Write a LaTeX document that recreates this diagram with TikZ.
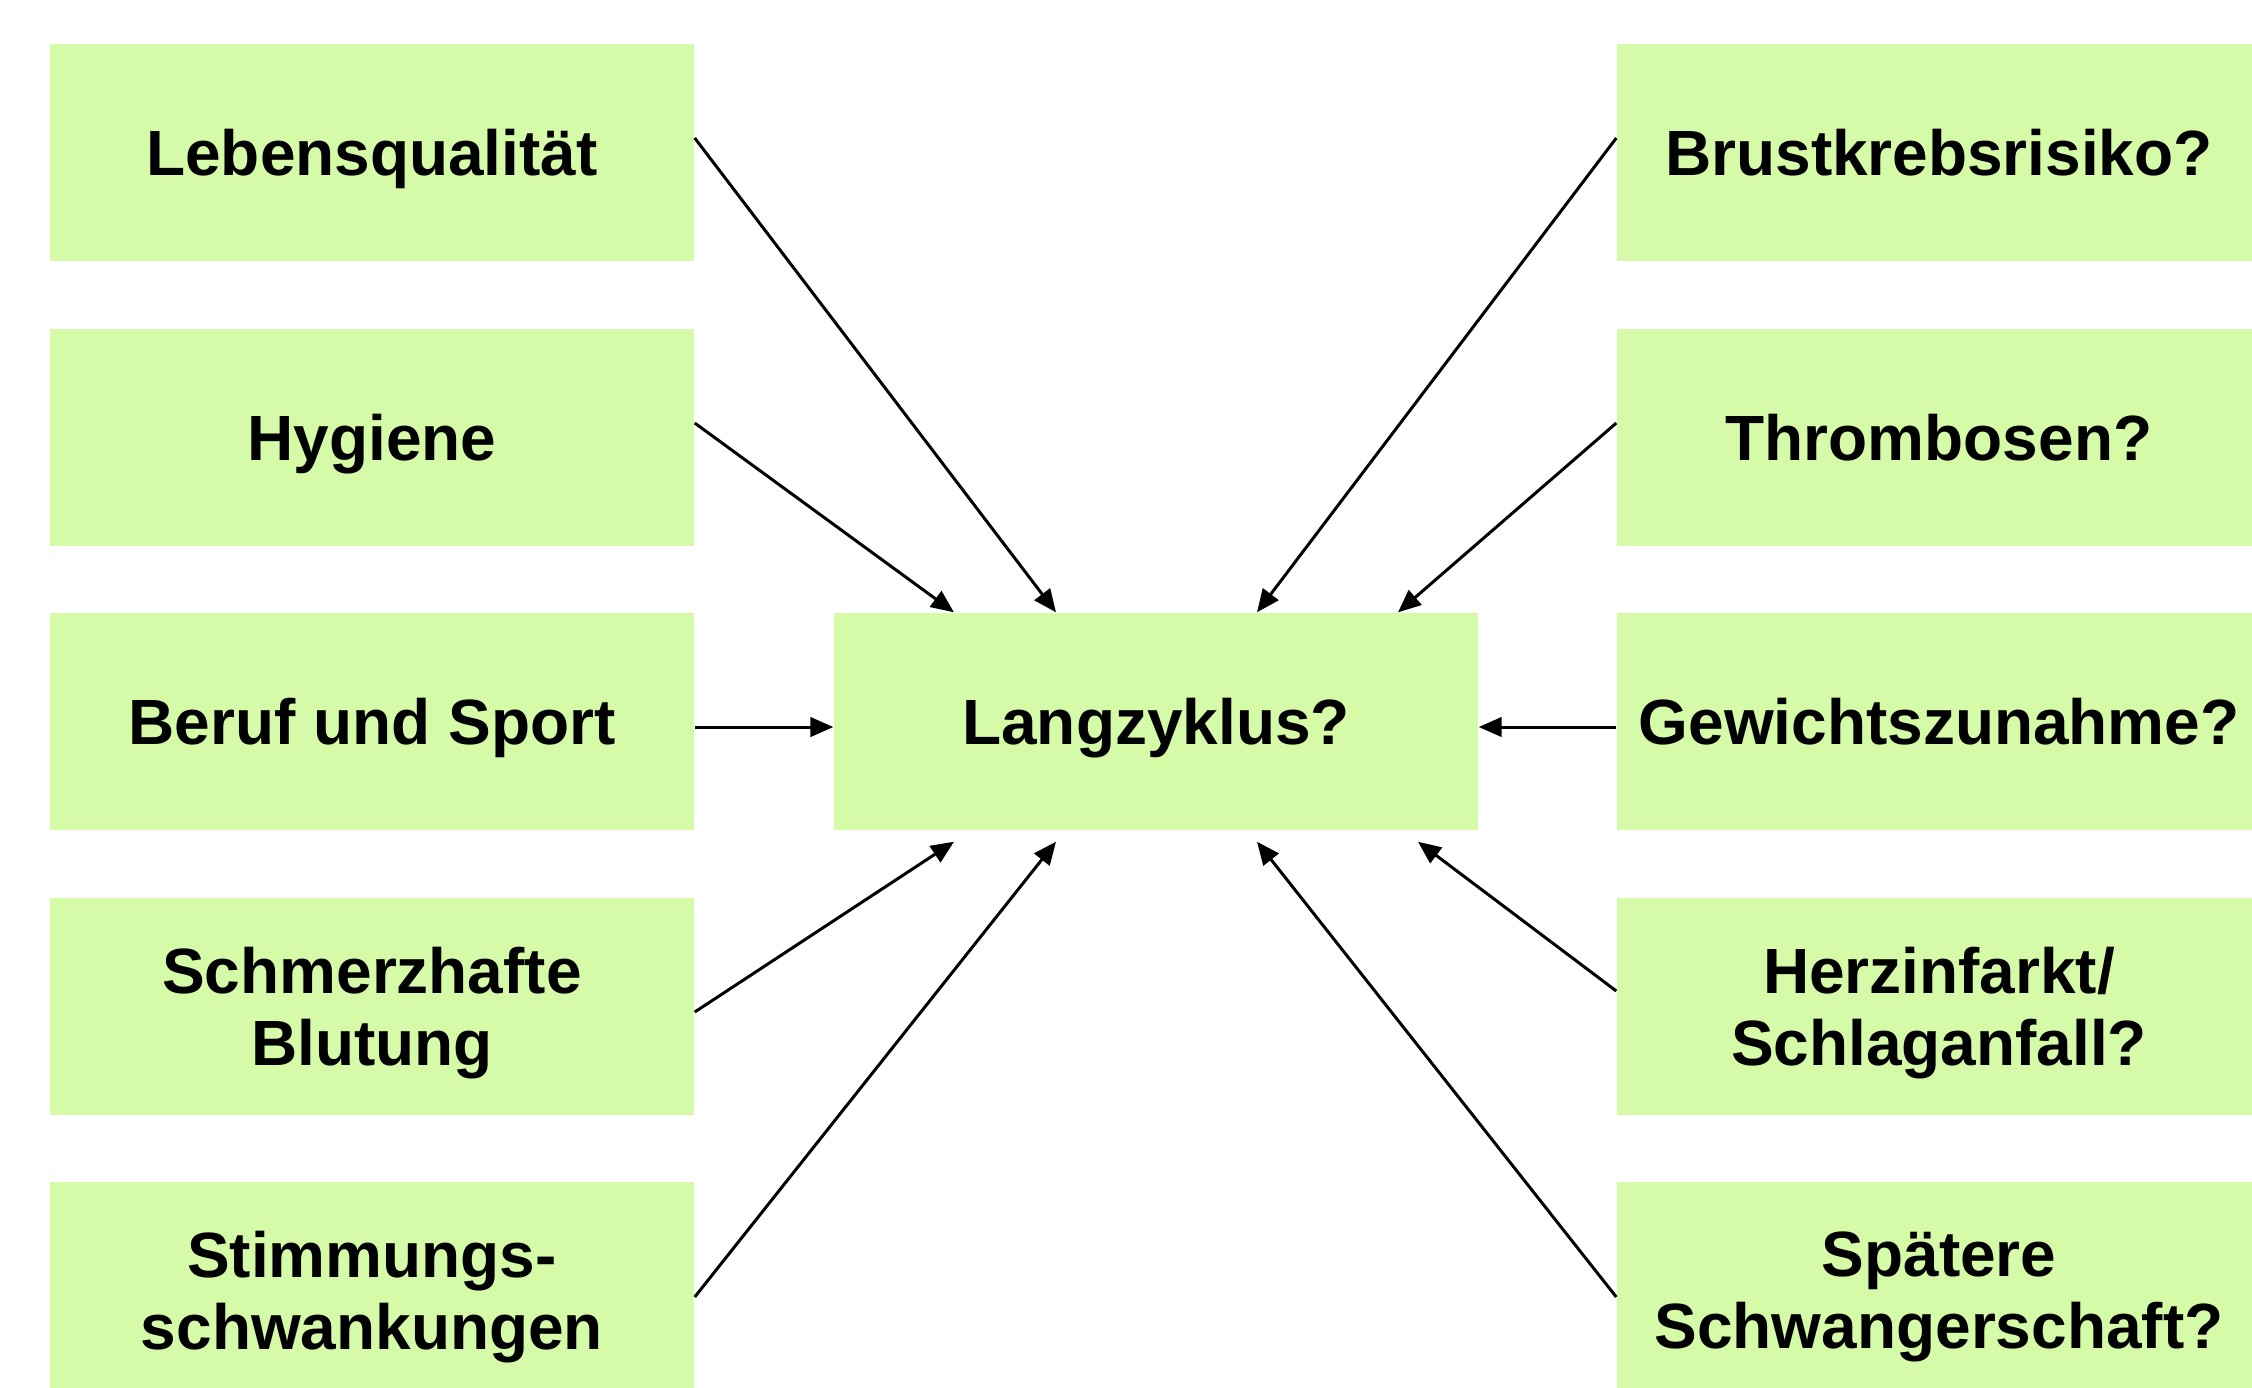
\documentclass[tikz,border=0pt]{standalone}
\usepackage{fontspec}
\setmainfont{Liberation Sans}
\usetikzlibrary{arrows.meta}
\definecolor{boxgreen}{RGB}{213,251,168}

\begin{document}
\begin{tikzpicture}[box/.style={fill=boxgreen,minimum width=6.44cm,minimum height=2.17cm,inner sep=0pt,text depth=0pt,align=center,font=\fontsize{18.2}{20.5}\selectfont\bfseries}]
      \useasboundingbox (0,0) rectangle (22.52,-13.87);
      \clip (0,0) rectangle (22.52,-13.87);
      \draw
        (3.72, -1.525) node[box] (leben){Lebensqualität}
        (3.72, -4.37) node[box] (hyg){Hygiene}
        (3.72, -7.215) node[box] (beruf){Beruf und Sport}
        (3.72, -10.06) node[box] (schmerz){Schmerzhafte\\Blutung}
        (3.72, -12.905) node[box] (stimm){Stimmungs-\\schwankungen}
        (11.56, -7.215) node[box] (lang){Langzyklus?}
        (19.39, -1.525) node[box] (brust){Brustkrebsrisiko?}
        (19.39, -4.37) node[box] (thromb){Thrombosen?}
        (19.39, -7.215) node[box] (gewicht){Gewichtszunahme?}
        (19.39, -10.06) node[box] (herz){Herzinfarkt/\\Schlaganfall?}
        (19.39, -12.905) node[box] (spaet){Spätere\\Schwangerschaft?};
      \begin{scope}[-{Triangle[length=6.5pt,width=5.5pt]},line width=0.85pt]
        \draw ([yshift=0.145cm]leben.east) to ([xshift=-1cm]lang.north);
        \draw ([yshift=0.14cm]hyg.east) to ([xshift=-2.02cm]lang.north);
        \draw ([yshift=-0.055cm]beruf.east) to ([yshift=-0.055cm]lang.west);
        \draw ([yshift=-0.06cm]schmerz.east) to ([xshift=-2.02cm,yshift=-0.11cm]lang.south);
        \draw ([yshift=-0.065cm]stimm.east) to ([xshift=-1cm,yshift=-0.11cm]lang.south);
        \draw ([yshift=0.145cm]brust.west) to ([xshift=1.01cm]lang.north);
        \draw ([yshift=0.14cm]thromb.west) to ([xshift=2.42cm]lang.north);
        \draw ([yshift=-0.055cm]gewicht.west) to ([yshift=-0.055cm]lang.east);
        \draw ([yshift=0.15cm]herz.west) to ([xshift=2.62cm,yshift=-0.11cm]lang.south);
        \draw ([yshift=-0.065cm]spaet.west) to ([xshift=1.01cm,yshift=-0.11cm]lang.south);
      \end{scope}
    \end{tikzpicture}
\end{document}
